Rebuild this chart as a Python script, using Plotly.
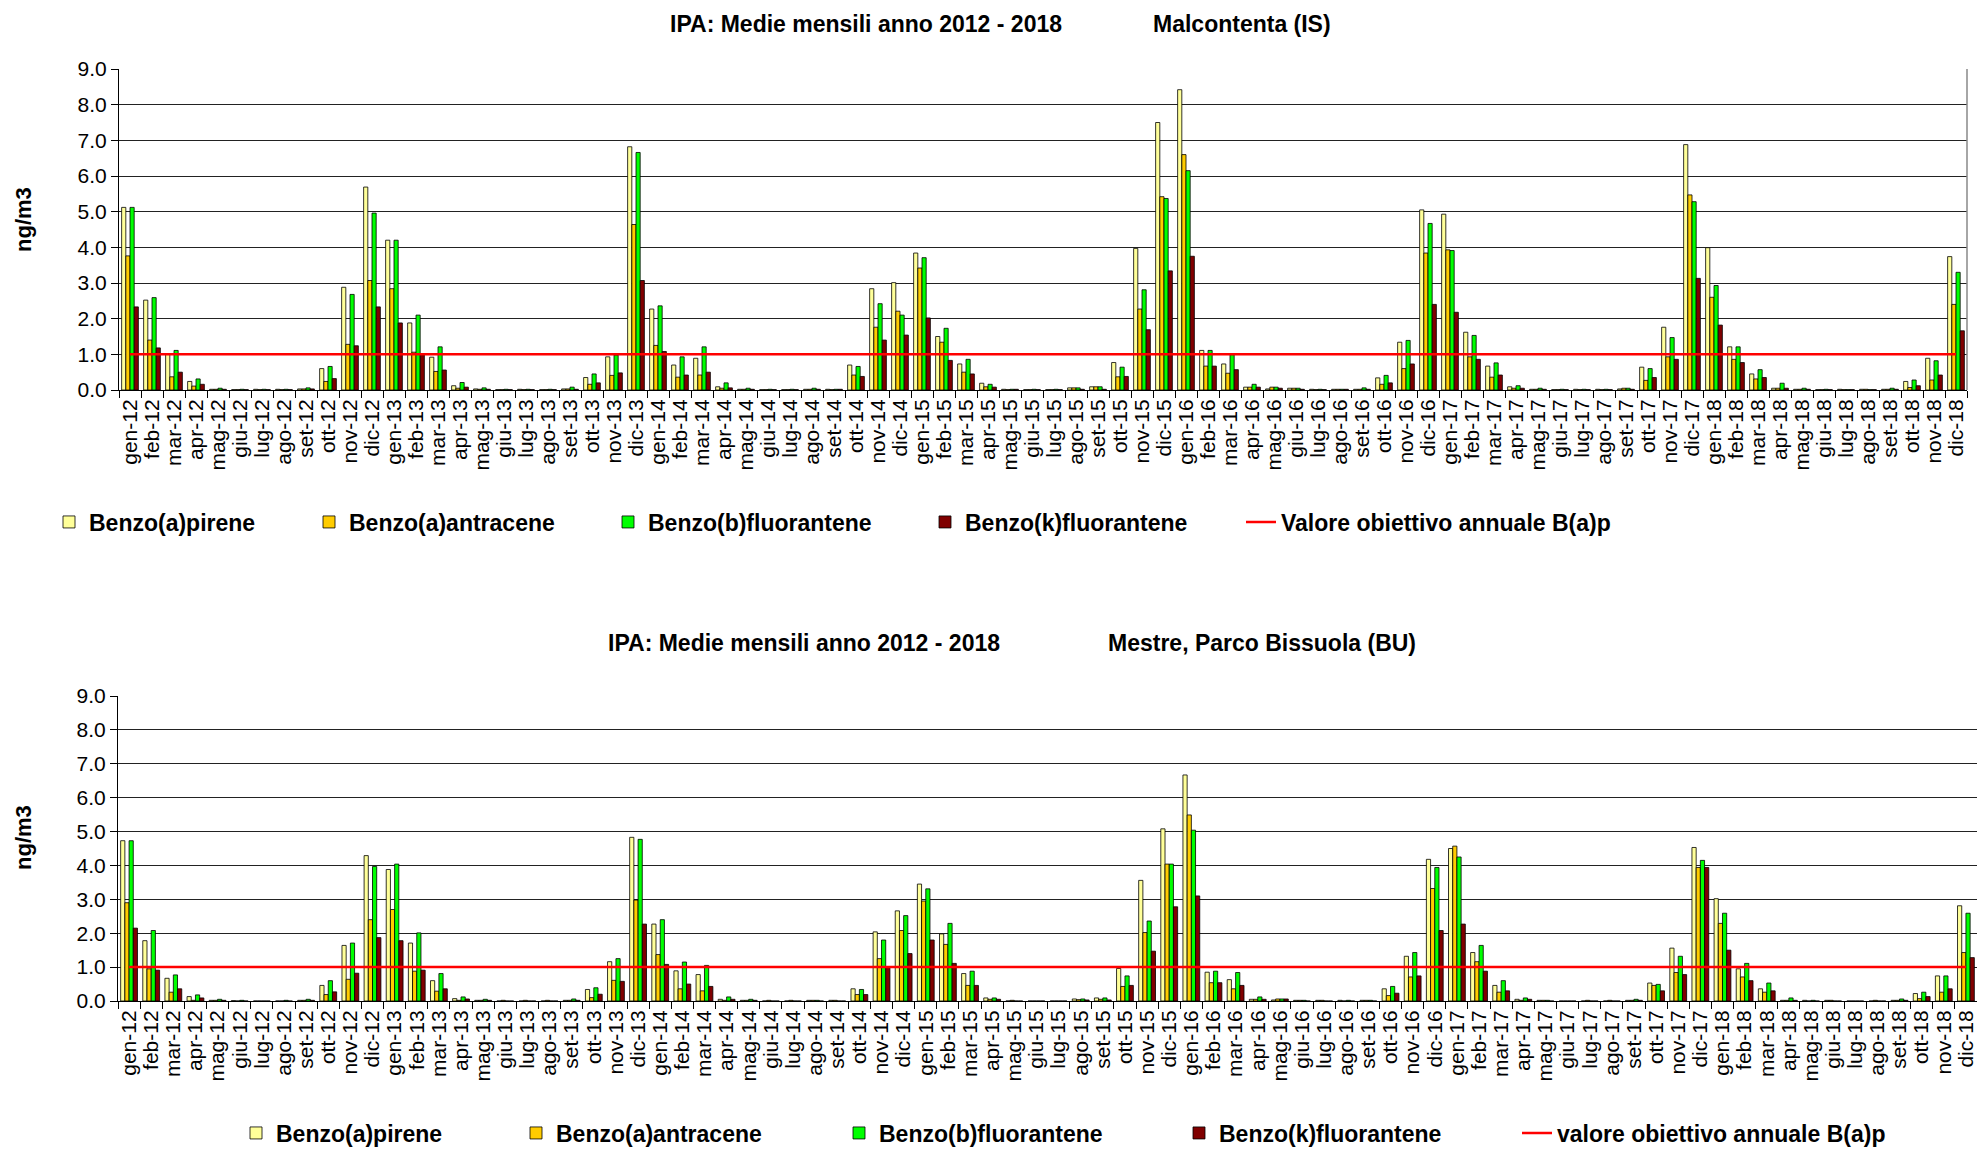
import plotly.graph_objects as go

# ---------------- data ----------------
mesi_abbr = ["gen", "feb", "mar", "apr", "mag", "giu", "lug", "ago", "set", "ott", "nov", "dic"]
anni = ["12", "13", "14", "15", "16", "17", "18"]
mesi = [f"{m}-{a}" for a in anni for m in mesi_abbr]

serie_nomi = ["Benzo(a)pirene", "Benzo(a)antracene", "Benzo(b)fluorantene", "Benzo(k)fluorantene"]
serie_colori = ["#FFFF99", "#FFCC00", "#00FF00", "#800000"]

# Malcontenta (IS)
malc_bap = [5.12, 2.52, 1.02, 0.24, 0.02, 0.01, 0.02, 0.02, 0.03, 0.60, 2.88, 5.69,
            4.20, 1.88, 0.92, 0.12, 0.03, 0.01, 0.02, 0.01, 0.03, 0.35, 0.93, 6.82,
            2.27, 0.70, 0.89, 0.09, 0.02, 0.01, 0.01, 0.02, 0.02, 0.70, 2.84, 3.01,
            3.84, 1.50, 0.73, 0.19, 0.02, 0.01, 0.01, 0.06, 0.09, 0.77, 3.97, 7.50,
            8.42, 1.11, 0.73, 0.08, 0.03, 0.05, 0.02, 0.02, 0.02, 0.34, 1.34, 5.05,
            4.93, 1.62, 0.67, 0.09, 0.02, 0.01, 0.02, 0.02, 0.03, 0.64, 1.76, 6.88,
            3.99, 1.21, 0.45, 0.05, 0.02, 0.01, 0.02, 0.02, 0.02, 0.24, 0.89, 3.74]
malc_baa = [3.76, 1.40, 0.37, 0.11, 0.02, 0.01, 0.01, 0.01, 0.03, 0.24, 1.28, 3.07,
            2.84, 1.06, 0.52, 0.05, 0.02, 0.01, 0.01, 0.01, 0.03, 0.16, 0.41, 4.64,
            1.25, 0.36, 0.42, 0.05, 0.02, 0.01, 0.01, 0.02, 0.01, 0.42, 1.76, 2.21,
            3.42, 1.34, 0.50, 0.09, 0.01, 0.01, 0.01, 0.06, 0.09, 0.37, 2.27, 5.42,
            6.60, 0.67, 0.47, 0.08, 0.08, 0.05, 0.01, 0.02, 0.02, 0.16, 0.60, 3.84,
            3.93, 0.93, 0.36, 0.05, 0.02, 0.01, 0.01, 0.01, 0.05, 0.27, 0.93, 5.47,
            2.60, 0.86, 0.31, 0.05, 0.02, 0.01, 0.01, 0.02, 0.02, 0.07, 0.28, 2.40]
malc_bbf = [5.12, 2.59, 1.11, 0.31, 0.05, 0.02, 0.02, 0.02, 0.06, 0.66, 2.68, 4.96,
            4.20, 2.10, 1.21, 0.21, 0.06, 0.02, 0.02, 0.02, 0.08, 0.45, 0.98, 6.66,
            2.36, 0.93, 1.21, 0.20, 0.05, 0.02, 0.02, 0.05, 0.02, 0.66, 2.42, 2.10,
            3.71, 1.73, 0.86, 0.16, 0.02, 0.02, 0.02, 0.06, 0.09, 0.64, 2.81, 5.37,
            6.15, 1.11, 0.99, 0.16, 0.08, 0.05, 0.02, 0.02, 0.06, 0.41, 1.39, 4.67,
            3.91, 1.53, 0.76, 0.12, 0.05, 0.02, 0.02, 0.02, 0.05, 0.60, 1.47, 5.28,
            2.93, 1.21, 0.57, 0.19, 0.05, 0.02, 0.01, 0.01, 0.05, 0.28, 0.82, 3.30]
malc_bkf = [2.33, 1.18, 0.50, 0.16, 0.02, 0.01, 0.01, 0.01, 0.03, 0.32, 1.24, 2.33,
            1.88, 0.99, 0.56, 0.08, 0.02, 0.01, 0.01, 0.01, 0.02, 0.20, 0.48, 3.07,
            1.08, 0.42, 0.50, 0.06, 0.02, 0.01, 0.01, 0.02, 0.02, 0.38, 1.40, 1.54,
            2.02, 0.83, 0.45, 0.08, 0.02, 0.01, 0.01, 0.02, 0.02, 0.38, 1.69, 3.34,
            3.75, 0.67, 0.57, 0.08, 0.05, 0.02, 0.01, 0.02, 0.02, 0.20, 0.73, 2.40,
            2.18, 0.86, 0.42, 0.05, 0.02, 0.01, 0.01, 0.01, 0.02, 0.35, 0.86, 3.13,
            1.82, 0.77, 0.35, 0.05, 0.02, 0.01, 0.01, 0.01, 0.02, 0.12, 0.42, 1.66]

# Mestre, Parco Bissuola (BU)
mest_bap = [4.73, 1.78, 0.67, 0.13, 0.02, 0.01, 0.00, 0.00, 0.02, 0.46, 1.64, 4.29,
            3.88, 1.71, 0.60, 0.07, 0.02, 0.00, 0.00, 0.00, 0.02, 0.34, 1.16, 4.83,
            2.27, 0.89, 0.78, 0.05, 0.02, 0.00, 0.00, 0.02, 0.02, 0.36, 2.04, 2.66,
            3.45, 1.98, 0.81, 0.09, 0.00, 0.00, 0.00, 0.06, 0.09, 0.96, 3.56, 5.08,
            6.67, 0.85, 0.63, 0.05, 0.03, 0.02, 0.02, 0.02, 0.02, 0.36, 1.32, 4.18,
            4.50, 1.43, 0.46, 0.05, 0.02, 0.00, 0.00, 0.00, 0.02, 0.53, 1.56, 4.53,
            3.02, 0.95, 0.36, 0.02, 0.02, 0.02, 0.00, 0.00, 0.02, 0.22, 0.74, 2.81]
mest_baa = [2.90, 0.95, 0.26, 0.02, 0.02, 0.00, 0.00, 0.00, 0.02, 0.19, 0.64, 2.40,
            2.70, 0.88, 0.29, 0.02, 0.02, 0.02, 0.02, 0.02, 0.02, 0.10, 0.61, 2.98,
            1.37, 0.36, 0.30, 0.02, 0.02, 0.02, 0.02, 0.02, 0.02, 0.19, 1.25, 2.08,
            2.95, 1.67, 0.46, 0.05, 0.02, 0.00, 0.00, 0.04, 0.05, 0.43, 2.02, 4.04,
            5.49, 0.54, 0.36, 0.05, 0.06, 0.02, 0.02, 0.00, 0.02, 0.16, 0.71, 3.32,
            4.57, 1.16, 0.26, 0.02, 0.02, 0.00, 0.02, 0.02, 0.02, 0.46, 0.84, 3.94,
            2.29, 0.71, 0.26, 0.02, 0.00, 0.02, 0.00, 0.02, 0.02, 0.07, 0.26, 1.43]
mest_bbf = [4.73, 2.08, 0.77, 0.18, 0.05, 0.02, 0.00, 0.02, 0.05, 0.60, 1.71, 3.97,
            4.04, 2.01, 0.81, 0.12, 0.05, 0.00, 0.00, 0.00, 0.06, 0.39, 1.25, 4.77,
            2.40, 1.15, 1.05, 0.12, 0.05, 0.00, 0.00, 0.02, 0.00, 0.34, 1.80, 2.52,
            3.31, 2.29, 0.88, 0.09, 0.00, 0.00, 0.00, 0.06, 0.09, 0.74, 2.36, 4.04,
            5.04, 0.88, 0.84, 0.12, 0.06, 0.02, 0.00, 0.02, 0.02, 0.43, 1.43, 3.94,
            4.25, 1.64, 0.60, 0.09, 0.02, 0.00, 0.00, 0.00, 0.05, 0.49, 1.32, 4.15,
            2.59, 1.11, 0.53, 0.09, 0.02, 0.00, 0.00, 0.00, 0.06, 0.26, 0.74, 2.59]
mest_bkf = [2.15, 0.91, 0.36, 0.09, 0.02, 0.00, 0.00, 0.00, 0.02, 0.27, 0.82, 1.87,
            1.78, 0.91, 0.36, 0.06, 0.02, 0.00, 0.00, 0.00, 0.02, 0.20, 0.58, 2.27,
            1.08, 0.50, 0.43, 0.05, 0.02, 0.00, 0.00, 0.00, 0.00, 0.19, 1.00, 1.40,
            1.80, 1.11, 0.46, 0.05, 0.00, 0.00, 0.00, 0.03, 0.03, 0.46, 1.47, 2.78,
            3.10, 0.54, 0.46, 0.05, 0.06, 0.00, 0.00, 0.00, 0.00, 0.23, 0.74, 2.08,
            2.27, 0.88, 0.30, 0.05, 0.00, 0.00, 0.00, 0.00, 0.02, 0.30, 0.78, 3.94,
            1.50, 0.60, 0.30, 0.02, 0.00, 0.00, 0.00, 0.00, 0.02, 0.13, 0.36, 1.28]

valore_obiettivo = 1.0
y_ticks = [0, 1, 2, 3, 4, 5, 6, 7, 8, 9]

# ---------------- layout helpers ----------------
W, H = 1977, 1149
FONT = "Liberation Sans, Arial, sans-serif"

def fx(p):
    return p / W

def fy(p):
    return 1 - p / H

fig = go.Figure()

panels = [
    dict(ax="", series=[malc_bap, malc_baa, malc_bbf, malc_bkf],
         line_label="Valore obiettivo annuale B(a)p",
         leg_text_x=[89, 349, 648, 965, 1281], leg_y=522),
    dict(ax="2", series=[mest_bap, mest_baa, mest_bbf, mest_bkf],
         line_label="valore obiettivo annuale B(a)p",
         leg_text_x=[276, 556, 879, 1219, 1557], leg_y=1133),
]
LEG_OFF = 40
leg_font = dict(family=FONT, size=23, color="#000000", weight="bold")

leg_idx = 0
for p in panels:
    xa, ya = "x" + p["ax"], "y" + p["ax"]
    for k, vals in enumerate(p["series"]):
        leg_idx += 1
        lname = "legend" if leg_idx == 1 else f"legend{leg_idx}"
        fig.add_trace(go.Bar(
            x=mesi, y=vals, name=serie_nomi[k], xaxis=xa, yaxis=ya,
            marker=dict(color=serie_colori[k], line=dict(color="#000000", width=0.8)),
            legend=lname, showlegend=True))
        fig.layout[lname] = dict(
            x=fx(p["leg_text_x"][k] - LEG_OFF), y=fy(p["leg_y"]), xanchor="left",
            yanchor="middle", orientation="h", bgcolor="rgba(0,0,0,0)", font=leg_font)
    leg_idx += 1
    lname = f"legend{leg_idx}"
    fig.add_trace(go.Scatter(
        x=[mesi[0], mesi[-1]], y=[valore_obiettivo, valore_obiettivo], mode="lines",
        name=p["line_label"], xaxis=xa, yaxis=ya,
        line=dict(color="#FF0000", width=2.5), legend=lname, showlegend=True))
    fig.layout[lname] = dict(
        x=fx(p["leg_text_x"][4] - LEG_OFF), y=fy(p["leg_y"]), xanchor="left",
        yanchor="middle", orientation="h", bgcolor="rgba(0,0,0,0)", font=leg_font)

xcommon = dict(type="category", categoryorder="array", categoryarray=mesi,
               tickmode="linear", tick0=0, dtick=1, tickson="boundaries",
               ticks="outside", ticklen=7, tickcolor="#000000", tickwidth=1,
               showline=True, linecolor="#000000", linewidth=1, showgrid=False,
               tickangle=-90, tickfont=dict(family=FONT, size=21, color="#000000"),
               automargin=False, zeroline=False)
ycommon = dict(range=[0, 9], tickmode="array", tickvals=y_ticks,
               ticktext=[f"{v:.1f}" for v in y_ticks],
               ticks="outside", ticklen=7, tickcolor="#000000", tickwidth=1,
               showline=True, linecolor="#000000", linewidth=1,
               showgrid=True, gridcolor="#222222", gridwidth=1, zeroline=False,
               tickfont=dict(family=FONT, size=21, color="#000000"), automargin=False)

fig.update_layout(
    width=W, height=H, margin=dict(l=0, r=0, t=0, b=0, autoexpand=False),
    paper_bgcolor="#FFFFFF", plot_bgcolor="#FFFFFF",
    barmode="group", bargap=0.24, bargroupgap=0.0,
    font=dict(family=FONT, size=21, color="#000000"),
    xaxis=dict(xcommon, domain=[fx(119), fx(1967)], anchor="y", range=[-0.5, 83.5]),
    yaxis=dict(ycommon, domain=[fy(390), fy(69)], anchor="x"),
    xaxis2=dict(xcommon, domain=[fx(118), 1.0], anchor="y2", range=[-0.5, 83.5]),
    yaxis2=dict(ycommon, domain=[fy(1001), fy(696)], anchor="x2"),
)

# right frame of upper chart
fig.add_shape(type="line", xref="x domain", yref="y domain", x0=1, x1=1, y0=0, y1=1,
              line=dict(color="#888888", width=1.5))

title_font = dict(family=FONT, size=23, color="#000000", weight="bold")
annots = [
    ("IPA: Medie mensili anno 2012 - 2018", 668, 24),
    ("Malcontenta (IS)", 1151, 24),
    ("IPA: Medie mensili anno 2012 - 2018", 606, 643),
    ("Mestre, Parco Bissuola (BU)", 1106, 643),
]
for t, x, y in annots:
    fig.add_annotation(text=t, xref="paper", yref="paper", x=fx(x), y=fy(y),
                       xanchor="left", yanchor="middle", showarrow=False, font=title_font)
for y in (220, 838):
    fig.add_annotation(text="ng/m3", xref="paper", yref="paper", x=fx(23), y=fy(y),
                       xanchor="center", yanchor="middle", textangle=-90, showarrow=False,
                       font=dict(family=FONT, size=22, color="#000000", weight="bold"))

fig.write_html("out.html",
               config={"displayModeBar": False},
               post_script="document.body.style.margin='0px';"
                           "document.body.style.overflow='hidden';")
